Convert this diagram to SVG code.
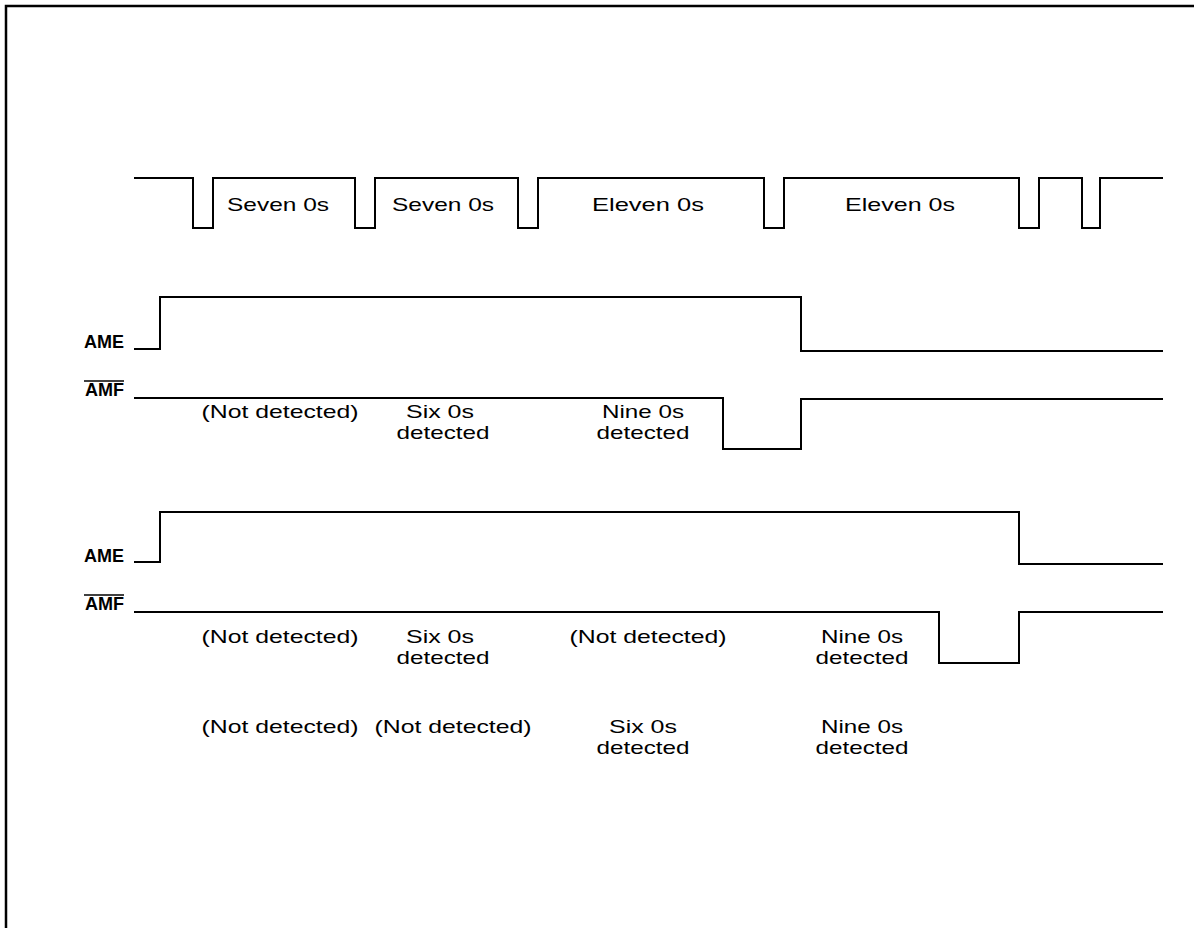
<svg xmlns="http://www.w3.org/2000/svg" width="1194" height="928" viewBox="0 0 1194 928">
<style>
.w{fill:none;stroke:#000;stroke-width:2;stroke-linejoin:miter}
.b{fill:none;stroke:#000;stroke-width:2.5}
text{font-family:"Liberation Sans",Arial,sans-serif;font-size:19px;fill:#000}
.m{text-anchor:middle}
.l{text-anchor:end;font-weight:bold;font-size:18px}
</style>
<rect width="1194" height="928" fill="#fff"/>
<path class="b" d="M6,928 V6 H1194"/>
<g id="connectors">
<path id="clock" class="w" d="M134,178 H193 V228 H213 V178 H355 V228 H375 V178 H518 V228 H538 V178 H764 V228 H784 V178 H1019 V228 H1039 V178 H1082 V228 H1100 V178 H1163"/>
<path id="ame1" class="w" d="M134,349 H160 V297 H801 V351 H1163"/>
<path id="amf1" class="w" d="M134,398 H723 V449 H801 V399 H1163"/>
<path id="ame2" class="w" d="M134,562 H160 V512 H1019 V564 H1163"/>
<path id="amf2" class="w" d="M134,612 H939 V663 H1019 V612 H1163"/>
</g>
<g id="labels-top">
<text class="m" x="278" y="211" textLength="102" lengthAdjust="spacingAndGlyphs">Seven 0s</text>
<text class="m" x="443" y="211" textLength="102" lengthAdjust="spacingAndGlyphs">Seven 0s</text>
<text class="m" x="648" y="211" textLength="112" lengthAdjust="spacingAndGlyphs">Eleven 0s</text>
<text class="m" x="900" y="211" textLength="110" lengthAdjust="spacingAndGlyphs">Eleven 0s</text>
</g>
<g id="signal-labels">
<text class="l" x="124" y="348">AME</text>
<text class="l" x="124" y="396">AMF</text>
<line x1="84" y1="381" x2="124" y2="381" stroke="#000" stroke-width="1.5"/>
<text class="l" x="124" y="562">AME</text>
<text class="l" x="124" y="610">AMF</text>
<line x1="84" y1="595" x2="124" y2="595" stroke="#000" stroke-width="1.5"/>
</g>
<g id="row1">
<text class="m" x="280" y="418" textLength="157" lengthAdjust="spacingAndGlyphs">(Not detected)</text>
<text class="m" x="440" y="418" textLength="68" lengthAdjust="spacingAndGlyphs">Six 0s</text>
<text class="m" x="443" y="439" textLength="93" lengthAdjust="spacingAndGlyphs">detected</text>
<text class="m" x="643" y="418" textLength="82" lengthAdjust="spacingAndGlyphs">Nine 0s</text>
<text class="m" x="643" y="439" textLength="93" lengthAdjust="spacingAndGlyphs">detected</text>
</g>
<g id="row2">
<text class="m" x="280" y="643" textLength="157" lengthAdjust="spacingAndGlyphs">(Not detected)</text>
<text class="m" x="440" y="643" textLength="68" lengthAdjust="spacingAndGlyphs">Six 0s</text>
<text class="m" x="443" y="664" textLength="93" lengthAdjust="spacingAndGlyphs">detected</text>
<text class="m" x="648" y="643" textLength="157" lengthAdjust="spacingAndGlyphs">(Not detected)</text>
<text class="m" x="862" y="643" textLength="82" lengthAdjust="spacingAndGlyphs">Nine 0s</text>
<text class="m" x="862" y="664" textLength="93" lengthAdjust="spacingAndGlyphs">detected</text>
</g>
<g id="row3">
<text class="m" x="280" y="733" textLength="157" lengthAdjust="spacingAndGlyphs">(Not detected)</text>
<text class="m" x="453" y="733" textLength="157" lengthAdjust="spacingAndGlyphs">(Not detected)</text>
<text class="m" x="643" y="733" textLength="68" lengthAdjust="spacingAndGlyphs">Six 0s</text>
<text class="m" x="643" y="754" textLength="93" lengthAdjust="spacingAndGlyphs">detected</text>
<text class="m" x="862" y="733" textLength="82" lengthAdjust="spacingAndGlyphs">Nine 0s</text>
<text class="m" x="862" y="754" textLength="93" lengthAdjust="spacingAndGlyphs">detected</text>
</g>
</svg>
